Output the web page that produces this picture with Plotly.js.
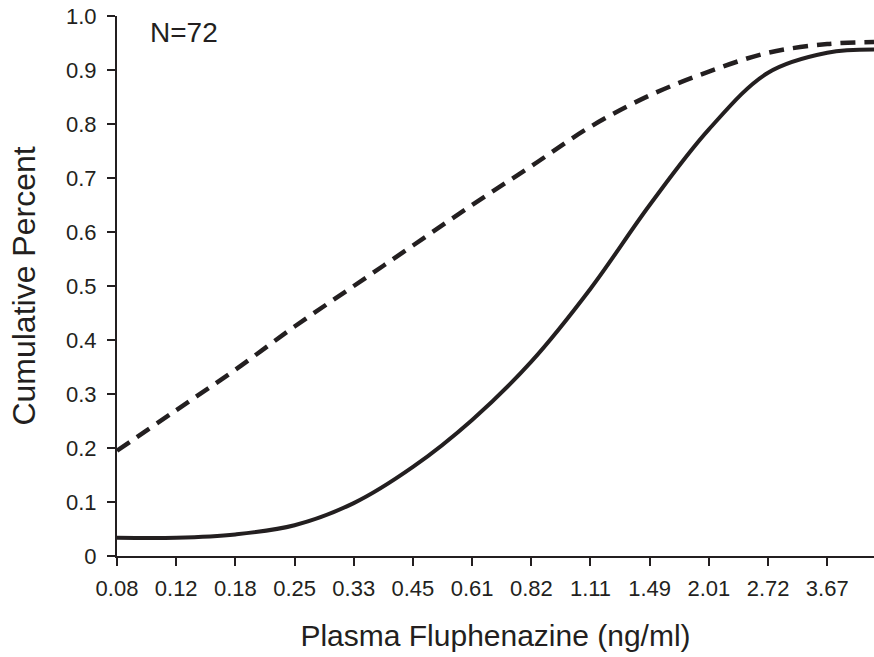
<!DOCTYPE html>
<html>
<head>
<meta charset="utf-8">
<script src="https://cdn.plot.ly/plotly-3.0.1.min.js"></script>
<style>html,body{margin:0;padding:0;background:#fff;}#chart{width:874px;height:657px;}</style>
</head>
<body>
<div id="chart"></div>
<script>
// x positions are in tick-slot units (equal log spacing, one slot per tick label)
const tickLabels = ["0.08","0.12","0.18","0.25","0.33","0.45","0.61","0.82","1.11","1.49","2.01","2.72","3.67"];
const yTickVals = [0,0.1,0.2,0.3,0.4,0.5,0.6,0.7,0.8,0.9,1.0];
const yTickText = ["0","0.1","0.2","0.3","0.4","0.5","0.6","0.7","0.8","0.9","1.0"];

const dashedX = [0, 1, 2, 3, 4, 5, 6, 7, 8, 9, 10, 11, 12, 12.79];
const dashedY = [0.195, 0.27, 0.345, 0.425, 0.50, 0.575, 0.65, 0.722, 0.795, 0.853, 0.897, 0.932, 0.948, 0.952];

const solidX = [0, 1, 2, 3, 4, 5, 6, 7, 8, 9, 10, 11, 12, 12.79];
const solidY = [0.034, 0.034, 0.04, 0.057, 0.098, 0.165, 0.252, 0.36, 0.495, 0.65, 0.79, 0.895, 0.932, 0.938];

const ink = "#231f20";
const font = "Liberation Sans, Arial, Helvetica, sans-serif";

const data = [
  {x: dashedX, y: dashedY, mode: "lines", line: {color: ink, width: 4.5, dash: "15px,9px", shape: "spline", smoothing: 1}, cliponaxis: false, hoverinfo: "skip"},
  {x: solidX, y: solidY, mode: "lines", line: {color: ink, width: 4, shape: "spline", smoothing: 1}, cliponaxis: false, hoverinfo: "skip"}
];

const layout = {
  width: 874, height: 657,
  margin: {l: 117, r: 0, t: 16, b: 101, pad: 0},
  paper_bgcolor: "#fff", plot_bgcolor: "#fff",
  showlegend: false,
  font: {family: font, color: ink},
  xaxis: {
    range: [0, 12.79], showgrid: false, zeroline: false,
    showline: true, linecolor: ink, linewidth: 2,
    ticks: "outside", ticklen: 8, tickwidth: 2, tickcolor: ink,
    tickvals: tickLabels.map((_, i) => i), ticktext: tickLabels,
    tickfont: {size: 22, family: font, color: ink},
    ticklabelstandoff: 4,
    title: {text: "Plasma Fluphenazine (ng/ml)", font: {size: 30, family: font, color: ink}, standoff: 25},
    automargin: false
  },
  yaxis: {
    range: [0, 1.0], showgrid: false, zeroline: false,
    showline: true, linecolor: ink, linewidth: 2,
    ticks: "outside", ticklen: 8, tickwidth: 2, tickcolor: ink,
    tickvals: yTickVals, ticktext: yTickText,
    tickfont: {size: 22, family: font, color: ink},
    ticklabelstandoff: 6,
    title: {text: "Cumulative Percent", font: {size: 32, family: font, color: ink}, standoff: 21},
    automargin: false
  },
  annotations: [
    {text: "N=72", xref: "x", yref: "y", x: (148 - 117) / 59.2, y: (556 - 32) / 540,
     xanchor: "left", yanchor: "middle", showarrow: false, font: {size: 28, family: font, color: ink}}
  ]
};

Plotly.newPlot("chart", data, layout, {displayModeBar: false, staticPlot: true});
</script>
</body>
</html>
